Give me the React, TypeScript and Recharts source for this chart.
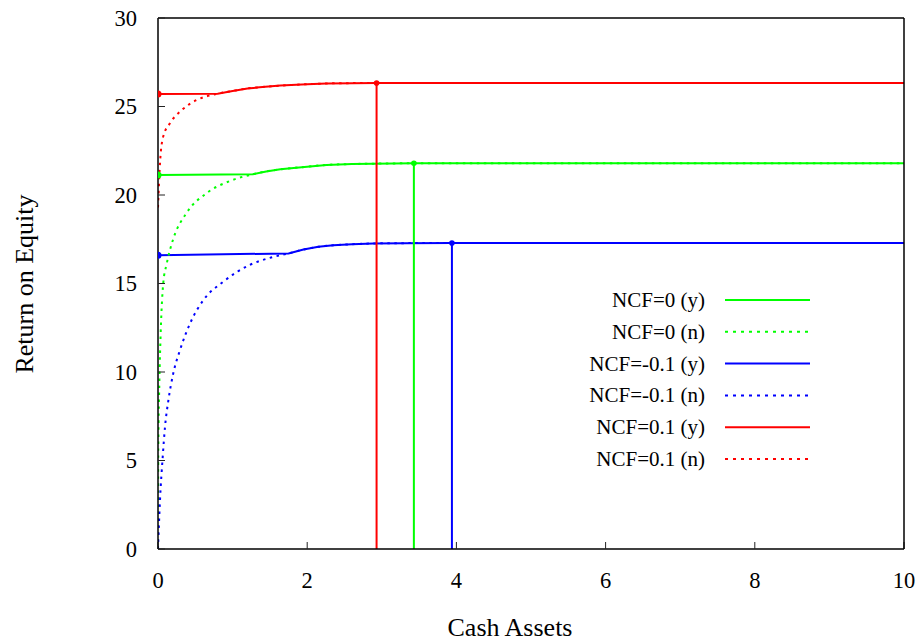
import React from "react";
import { ComposedChart, Line, Scatter, XAxis, YAxis } from "recharts";

// ---- axis ticks ----
const xTicks = [0, 2, 4, 6, 8, 10];
const yTicks = [0, 5, 10, 15, 20, 25, 30];

// ---- NCF=0 (green) ----
const ncf0YesX = [0, 1.27, 1.45, 1.64, 2.0, 2.26, 2.6, 2.88, 3.43, 10];
const ncf0YesY = [21.13, 21.17, 21.33, 21.45, 21.6, 21.7, 21.75, 21.77, 21.79, 21.79];
const ncf0NoX = [0, 0.004, 0.018, 0.036, 0.07, 0.116, 0.2, 0.38, 0.65, 0.97, 1.27, 1.45, 1.64, 2.0, 2.26, 2.6, 2.88, 3.43, 10];
const ncf0NoY = [0, 5.6, 9.36, 12.2, 15.0, 16.1, 17.46, 18.97, 20.1, 20.8, 21.17, 21.33, 21.45, 21.6, 21.7, 21.75, 21.77, 21.79, 21.79];
const ncf0Opt = { x: 3.43, y: 21.79 };
const ncf0Start = { x: 0, y: 21.13 };

// ---- NCF=-0.1 (blue) ----
const ncfMinusYesX = [0, 1.75, 1.95, 2.15, 2.35, 2.6, 2.89, 3.3, 3.94, 10];
const ncfMinusYesY = [16.6, 16.7, 16.92, 17.07, 17.16, 17.22, 17.26, 17.28, 17.29, 17.29];
const ncfMinusNoX = [0, 0.027, 0.063, 0.094, 0.14, 0.205, 0.295, 0.43, 0.61, 0.875, 1.23, 1.5, 1.75, 1.95, 2.15, 2.35, 2.6, 2.89, 3.3, 3.94, 10];
const ncfMinusNoY = [0, 2.77, 5.2, 6.9, 8.42, 9.93, 11.24, 12.75, 14.07, 15.1, 16.05, 16.45, 16.7, 16.92, 17.07, 17.16, 17.22, 17.26, 17.28, 17.29, 17.29];
const ncfMinusOpt = { x: 3.94, y: 17.29 };
const ncfMinusStart = { x: 0, y: 16.6 };

// ---- NCF=0.1 (red) ----
const ncfPlusYesX = [0, 0.8, 1.0, 1.2, 1.4, 1.64, 2.0, 2.26, 2.6, 2.93, 10];
const ncfPlusYesY = [25.7, 25.72, 25.88, 26.02, 26.1, 26.18, 26.26, 26.3, 26.32, 26.33, 26.33];
const ncfPlusNoX = [0, 0.03, 0.07, 0.16, 0.32, 0.52, 0.8, 1.0, 1.2, 1.4, 1.64, 2.0, 2.26, 2.6, 2.93, 10];
const ncfPlusNoY = [19.3, 22.0, 23.3, 24.05, 24.8, 25.37, 25.72, 25.88, 26.02, 26.1, 26.18, 26.26, 26.3, 26.32, 26.33, 26.33];
const ncfPlusOpt = { x: 2.93, y: 26.33 };
const ncfPlusStart = { x: 0, y: 25.7 };

const zip = (xs: number[], ys: number[]) => xs.map((x, i) => ({ x, y: ys[i] }));
const drop = (p: { x: number; y: number }) => [p, { x: p.x, y: 0 }];

const GREEN = "#00ff00";
const BLUE = "#0000ff";
const RED = "#ff0000";
const FONT = "'Liberation Serif', 'DejaVu Serif', serif";
const DOT = "2.5 4.5";

const legendRows = [
  { label: "NCF=0 (y)", color: GREEN, dotted: false },
  { label: "NCF=0 (n)", color: GREEN, dotted: true },
  { label: "NCF=-0.1 (y)", color: BLUE, dotted: false },
  { label: "NCF=-0.1 (n)", color: BLUE, dotted: true },
  { label: "NCF=0.1 (y)", color: RED, dotted: false },
  { label: "NCF=0.1 (n)", color: RED, dotted: true },
];

const dotShape = (color: string, r: number) => (props: any) =>
  <circle cx={props.cx} cy={props.cy} r={r} fill={color} />;

const XTick = (props: any) => (
  <text
    x={props.x}
    y={props.y}
    dy="0.75em"
    textAnchor="middle"
    style={{ fontFamily: FONT, fontSize: 22.5, fill: "#000" }}
  >
    {props.payload.value}
  </text>
);

const YTick = (props: any) => (
  <text
    x={props.x}
    y={props.y}
    dy="0.34em"
    textAnchor="end"
    style={{ fontFamily: FONT, fontSize: 22.5, fill: "#000" }}
  >
    {props.payload.value}
  </text>
);

export default function App() {
  const series = [
    { yes: zip(ncf0YesX, ncf0YesY), no: zip(ncf0NoX, ncf0NoY), opt: ncf0Opt, start: ncf0Start, color: GREEN, key: "g" },
    { yes: zip(ncfMinusYesX, ncfMinusYesY), no: zip(ncfMinusNoX, ncfMinusNoY), opt: ncfMinusOpt, start: ncfMinusStart, color: BLUE, key: "b" },
    { yes: zip(ncfPlusYesX, ncfPlusYesY), no: zip(ncfPlusNoX, ncfPlusNoY), opt: ncfPlusOpt, start: ncfPlusStart, color: RED, key: "r" },
  ];
  return (
    <div style={{ position: "absolute", left: 0, top: 0, width: 922, height: 642, background: "#fff" }}>
      <ComposedChart width={922} height={642} margin={{ top: 0, right: 0, bottom: 0, left: 0 }}>
        <XAxis
          xAxisId="bottom"
          dataKey="x"
          type="number"
          domain={[0, 10]}
          ticks={xTicks}
          interval={0}
          allowDataOverflow
          height={93}
          tickSize={-7}
          tickMargin={29}
          tick={XTick}
          axisLine={{ stroke: "#000", strokeWidth: 1.5 }}
          tickLine={{ stroke: "#222", strokeWidth: 1 }}
        />
        <XAxis
          xAxisId="top"
          orientation="top"
          dataKey="x"
          type="number"
          domain={[0, 10]}
          ticks={xTicks}
          interval={0}
          allowDataOverflow
          height={18}
          tickSize={-7}
          tick={false}
          axisLine={{ stroke: "#000", strokeWidth: 1.5 }}
          tickLine={{ stroke: "#222", strokeWidth: 1 }}
        />
        <YAxis
          yAxisId="left"
          dataKey="y"
          type="number"
          domain={[0, 30]}
          ticks={yTicks}
          interval={0}
          allowDataOverflow
          width={158}
          tickSize={-7}
          tickMargin={28}
          tick={YTick}
          axisLine={{ stroke: "#000", strokeWidth: 1.5 }}
          tickLine={{ stroke: "#222", strokeWidth: 1 }}
        />
        <YAxis
          yAxisId="right"
          orientation="right"
          dataKey="y"
          type="number"
          domain={[0, 30]}
          ticks={yTicks}
          interval={0}
          allowDataOverflow
          width={18}
          tickSize={-7}
          tick={false}
          axisLine={{ stroke: "#000", strokeWidth: 1.5 }}
          tickLine={{ stroke: "#222", strokeWidth: 1 }}
        />
        {series.map((s) => (
          <Line
            key={s.key + "yes"}
            xAxisId="bottom"
            yAxisId="left"
            data={s.yes}
            dataKey="y"
            type="linear"
            stroke={s.color}
            strokeWidth={2}
            dot={false}
            activeDot={false}
            isAnimationActive={false}
          />
        ))}
        {series.map((s) => (
          <Line
            key={s.key + "no"}
            xAxisId="bottom"
            yAxisId="left"
            data={s.no}
            dataKey="y"
            type="monotone"
            stroke={s.color}
            strokeWidth={2}
            strokeDasharray={DOT}
            dot={false}
            activeDot={false}
            isAnimationActive={false}
          />
        ))}
        {series.map((s) => (
          <Line
            key={s.key + "drop"}
            xAxisId="bottom"
            yAxisId="left"
            data={drop(s.opt)}
            dataKey="y"
            type="linear"
            stroke={s.color}
            strokeWidth={2}
            dot={false}
            activeDot={false}
            isAnimationActive={false}
          />
        ))}
        {series.map((s) => (
          <Scatter
            key={s.key + "pts"}
            xAxisId="bottom"
            yAxisId="left"
            data={[s.start]}
            dataKey="y"
            shape={dotShape(s.color, 3.5)}
            isAnimationActive={false}
          />
        ))}
        {series.map((s) => (
          <Scatter
            key={s.key + "opt"}
            xAxisId="bottom"
            yAxisId="left"
            data={[s.opt]}
            dataKey="y"
            shape={dotShape(s.color, 2.8)}
            isAnimationActive={false}
          />
        ))}
      </ComposedChart>
      <svg
        width={922}
        height={642}
        style={{ position: "absolute", left: 0, top: 0, pointerEvents: "none" }}
      >
        <text
          x={33}
          y={284}
          transform="rotate(-90 33 284)"
          textAnchor="middle"
          style={{ fontFamily: FONT, fontSize: 26, fill: "#000" }}
        >
          Return on Equity
        </text>
        <text
          x={510}
          y={636}
          textAnchor="middle"
          style={{ fontFamily: FONT, fontSize: 26, fill: "#000" }}
        >
          Cash Assets
        </text>
        {legendRows.map((row, i) => {
          const cy = 300 + i * 31.8;
          return (
            <g key={row.label}>
              <text
                x={705}
                y={cy + 7}
                textAnchor="end"
                style={{ fontFamily: FONT, fontSize: 21, fill: "#000" }}
              >
                {row.label}
              </text>
              <line
                x1={725}
                x2={810}
                y1={cy}
                y2={cy}
                stroke={row.color}
                strokeWidth={2}
                strokeDasharray={row.dotted ? "3 5" : undefined}
              />
            </g>
          );
        })}
      </svg>
    </div>
  );
}
